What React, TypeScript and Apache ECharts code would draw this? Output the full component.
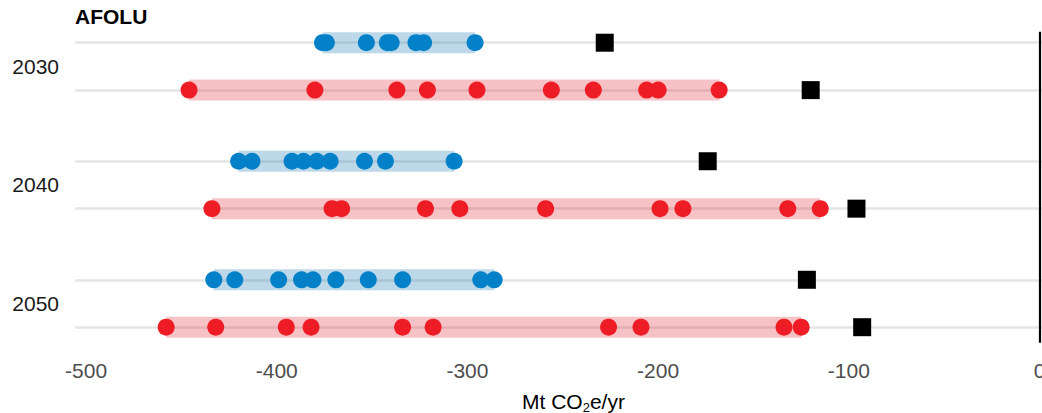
import React, { useEffect, useRef } from 'react';
import * as echarts from 'echarts';

const FONT = '"Liberation Sans", Arial, Helvetica, sans-serif';

const title = 'AFOLU';
const years = ['2030', '2040', '2050'];
const xTicks = [-500, -400, -300, -200, -100, 0];

// Blue scenario set (upper row of each year)
const blue2030 = [-376, -374, -353, -342, -340, -327, -323, -296];
const blue2040 = [-420, -413, -392, -386, -379, -372, -354, -343, -307];
const blue2050 = [-433, -422, -399, -387, -381, -369, -352, -334, -293, -286];

// Red scenario set (lower row of each year)
const red2030 = [-446, -380, -337, -321, -295, -256, -234, -206, -200, -168];
const red2040 = [-434, -371, -366, -322, -304, -259, -199, -187, -132, -115];
const red2050 = [-458, -432, -395, -382, -334, -318, -226, -209, -134, -125];

// Black square markers
const blueRowMarker = [-228, -174, -122];
const redRowMarker = [-120, -96, -93];

const blueSets = [blue2030, blue2040, blue2050];
const redSets = [red2030, red2040, red2050];

const BLUE = '#0281C9';
const RED = '#EE1C25';
const BLUE_BAND = 'rgba(10, 115, 175, 0.27)';
const RED_BAND = 'rgba(220, 30, 45, 0.27)';

const GROUP_STEP = 2.5;
const rowBlue = (g: number) => g * GROUP_STEP;
const rowRed = (g: number) => g * GROUP_STEP + 1;
const yearLabelPos = (g: number) => g * GROUP_STEP + 0.5;

export default function App() {
  const ref = useRef<HTMLDivElement>(null);

  useEffect(() => {
    document.body.style.margin = '0';
    const chart = echarts.init(ref.current!, null, { renderer: 'svg' });

    const bandData: any[] = [];
    years.forEach((_, g) => {
      const b = blueSets[g];
      const r = redSets[g];
      bandData.push({ value: [Math.min(...b), Math.max(...b), rowBlue(g)], itemStyle: { color: BLUE_BAND } });
      bandData.push({ value: [Math.min(...r), Math.max(...r), rowRed(g)], itemStyle: { color: RED_BAND } });
    });

    const bluePts: number[][] = [];
    const redPts: number[][] = [];
    const squarePts: number[][] = [];
    years.forEach((_, g) => {
      blueSets[g].forEach((v) => bluePts.push([v, rowBlue(g)]));
      redSets[g].forEach((v) => redPts.push([v, rowRed(g)]));
      squarePts.push([blueRowMarker[g], rowBlue(g)]);
      squarePts.push([redRowMarker[g], rowRed(g)]);
    });

    const rows: number[] = [];
    years.forEach((_, g) => {
      rows.push(rowBlue(g), rowRed(g));
    });

    const option: any = {
      animation: false,
      textStyle: { fontFamily: FONT },
      grid: {
        left: 75,
        right: 0,
        top: 19,
        height: 331.9,
        containLabel: false,
        outerBoundsMode: 'none',
      },
      xAxis: {
        type: 'value',
        min: -505.8,
        max: 1.3,
        splitNumber: 5,
        axisLine: { show: false },
        axisTick: { show: false },
        splitLine: { show: false },
        axisLabel: {
          show: true,
          margin: 9,
          fontSize: 21,
          color: '#4d4d4d',
          fontFamily: FONT,
          hideOverlap: false,
          showMinLabel: false,
          showMaxLabel: true,
          formatter: (v: number) => (xTicks.some((t) => Math.abs(t - v) < 1e-6) ? String(v) : ''),
        },
      },
      yAxis: {
        type: 'value',
        inverse: true,
        min: -0.5,
        max: 6.5,
        interval: 0.5,
        axisLine: { show: false },
        axisTick: { show: false },
        splitLine: { show: false },
        axisLabel: {
          margin: 16,
          fontSize: 21,
          color: '#1a1a1a',
          fontFamily: FONT,
          padding: [0, 0, 5, 0],
          formatter: (v: number) => {
            const g = years.findIndex((_, i) => Math.abs(yearLabelPos(i) - v) < 1e-6);
            return g >= 0 ? years[g] : '';
          },
        },
      },
      graphic: [
        {
          type: 'text',
          x: 75,
          y: 16.5,
          style: {
            text: title,
            fontSize: 21,
            fontWeight: 'bold',
            fontFamily: FONT,
            fill: '#000',
            align: 'left',
            verticalAlign: 'middle',
          },
        },
        {
          type: 'text',
          x: 573.5,
          y: 401,
          style: {
            text: '{a|Mt CO}{s|2}{a|e/yr}',
            fontFamily: FONT,
            fill: '#000',
            align: 'center',
            verticalAlign: 'middle',
            rich: {
              a: { fontSize: 21, fontFamily: FONT, fill: '#000' },
              s: { fontSize: 13, fontFamily: FONT, fill: '#000', verticalAlign: 'bottom', padding: [0, 0, -2, 0] },
            },
          },
        },
      ],
      series: [
        {
          name: 'gridlines',
          type: 'line',
          data: [],
          z: 0,
          silent: true,
          markLine: {
            z: 0,
            silent: true,
            symbol: ['none', 'none'],
            label: { show: false },
            lineStyle: { color: '#e5e5e5', width: 2.5, type: 'solid' },
            data: rows.map((y) => ({ yAxis: y })),
          },
        },
        {
          name: 'ranges',
          type: 'custom',
          z: 1,
          silent: true,
          encode: { x: [0, 1], y: 2 },
          data: bandData,
          renderItem: (params: any, api: any) => {
            const y = api.value(2);
            const p1 = api.coord([api.value(0), y]);
            const p2 = api.coord([api.value(1), y]);
            const h = 21;
            return {
              type: 'rect',
              shape: { x: p1[0], y: p1[1] - h / 2, width: p2[0] - p1[0], height: h },
              style: { fill: api.visual('color') },
            };
          },
        },
        {
          name: 'blue',
          type: 'scatter',
          z: 3,
          symbol: 'circle',
          symbolSize: 17,
          itemStyle: { color: BLUE, opacity: 1 },
          data: bluePts,
        },
        {
          name: 'red',
          type: 'scatter',
          z: 3,
          symbol: 'circle',
          symbolSize: 17,
          itemStyle: { color: RED, opacity: 1 },
          data: redPts,
        },
        {
          name: 'marker',
          type: 'scatter',
          z: 4,
          symbol: 'rect',
          symbolSize: 18,
          itemStyle: { color: '#000', opacity: 1 },
          data: squarePts,
        },
        {
          name: 'zero',
          type: 'line',
          data: [],
          z: 5,
          silent: true,
          markLine: {
            z: 5,
            silent: true,
            symbol: ['none', 'none'],
            label: { show: false },
            lineStyle: { color: '#000', width: 2.2, type: 'solid' },
            data: [[{ coord: [0, -0.23] }, { coord: [0, 6.33] }]],
          },
        },
      ],
    };

    chart.setOption(option);
    return () => chart.dispose();
  }, []);

  return <div ref={ref} style={{ width: 1042, height: 413 }} />;
}
